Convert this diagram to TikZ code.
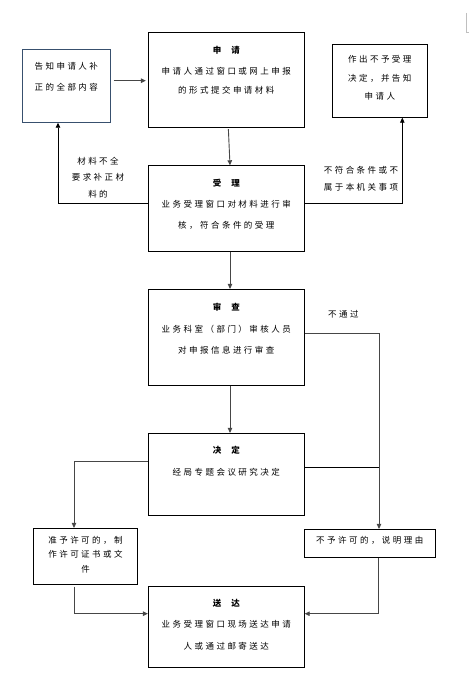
\documentclass[tikz,border=0pt]{standalone}
\usepackage{fontspec}
\setmainfont{Noto Sans CJK SC}[LetterSpace=29]
\usepackage{xcolor}
\usepackage{tikz}
\usetikzlibrary{arrows.meta, positioning, calc}
\definecolor{boxcolor}{RGB}{0,0,0}
\definecolor{notecolor}{RGB}{56,80,110}
\definecolor{flowcolor}{RGB}{70,70,70}

\begin{document}
\begin{tikzpicture}[
    x=1pt, y=-1pt,
    box/.style={draw=boxcolor, line width=0.8pt, inner sep=0pt},
    title/.style={font=\fontsize{8.5}{10}\selectfont\bfseries},
    body/.style={align=center, font=\fontsize{8.5}{19}\selectfont},
    flow/.style={draw=flowcolor, line width=0.9pt, -{Triangle[length=5pt,width=4.5pt]}},
    line/.style={draw=boxcolor, line width=0.8pt}
]
    \useasboundingbox (0,0) rectangle (470,698);
    % Boxes
    \node[box, minimum width=156pt, minimum height=95pt] (apply) at (226.3,79.8) {};
    \node[title] at (226.3,50) {申\hspace{10pt}请};
    \node[body] at (226.3,81.2) {申请人通过窗口或网上申报\\的形式提交申请材料};

    \node[box, draw=notecolor, minimum width=88pt, minimum height=73pt] (notify) at (66.3,85.8) {};
    \node[body, font=\fontsize{8.5}{21}\selectfont] at (66.3,77.2) {告知申请人补\\正的全部内容};

    \node[box, minimum width=95pt, minimum height=73pt] (reject) at (379.8,80.8) {};
    \node[body, font=\fontsize{8.5}{18.7}\selectfont] at (379.8,78) {作出不予受理\\决定，并告知\\申请人};

    \node[box, minimum width=156pt, minimum height=85.6pt] (accept) at (226.3,208.5) {};
    \node[title] at (226.3,182.7) {受\hspace{10pt}理};
    \node[body, font=\fontsize{8.5}{21.3}\selectfont] at (226.3,214.7) {业务受理窗口对材料进行审\\核，符合条件的受理};

    \node[box, minimum width=156pt, minimum height=96pt] (review) at (226.3,337.3) {};
    \node[title] at (226.3,306.7) {审\hspace{10pt}查};
    \node[body, font=\fontsize{8.5}{21}\selectfont] at (226.3,339.5) {业务科室（部门）审核人员\\对申报信息进行审查};

    \node[box, minimum width=156pt, minimum height=82pt] (decide) at (226.3,474.3) {};
    \node[title] at (226.3,450) {决\hspace{10pt}定};
    \node[body] at (226.3,472.3) {经局专题会议研究决定};

    \node[box, minimum width=104.4pt, minimum height=56pt] (permit) at (85.5,556.3) {};
    \node[body, font=\fontsize{8.5}{14.5}\selectfont] at (85.5,554.7) {准予许可的，制\\作许可证书或文\\件};

    \node[box, minimum width=131pt, minimum height=28pt] (deny) at (369.8,543.3) {};
    \node[body] at (369.8,540.7) {不予许可的，说明理由};

    \node[box, minimum width=156pt, minimum height=81pt] (deliver) at (226.3,626.8) {};
    \node[title] at (226.3,603.3) {送\hspace{10pt}达};
    \node[body, font=\fontsize{8.5}{22}\selectfont] at (226.3,635) {业务受理窗口现场送达申请\\人或通过邮寄送达};

    % Labels
    \node[body, font=\fontsize{8.5}{16.7}\selectfont] (lackmat) at (98,177.7) {材料不全\\要求补正材\\料的};
    \node[body, font=\fontsize{8.5}{16.6}\selectfont] (notours) at (361,179) {不符合条件或不\\属于本机关事项};
    \node[body] (failed) at (343.3,314.3) {不通过};

    % Bend points
    \coordinate (backleft) at (58,203);
    \coordinate (backright) at (402.3,203);
    \coordinate (nopass) at (379,333.3);
    \coordinate (join) at (379,467.3);
    \coordinate (leftbend) at (74,461.3);
    \coordinate (lowleft) at (74.3,613.7);
    \coordinate (lowright) at (378.3,613.7);

    % Connectors
    \draw[flow, shorten <=3pt, shorten >=2pt] (notify.east |- 0,80.7) -- (apply.west |- 0,80.7);
    \draw[flow, shorten <=1.5pt] ([xshift=2pt]apply.south) -- ([xshift=3.7pt]accept.north);
    \draw[line, -{Triangle[length=5pt,width=4.5pt]}] (accept.west |- backleft) -- (backleft) -- (backleft |- notify.south);
    \draw[line, -{Triangle[length=5pt,width=4.5pt]}] (accept.east |- backright) -- (backright) -- (backright |- reject.south);
    \draw[flow] ([xshift=3.7pt]accept.south) -- ([xshift=3.7pt]review.north);
    \draw[flow] ([xshift=3.7pt]review.south) -- ([xshift=3.7pt]decide.north);
    \draw[flow] (review.east |- nopass) -- (nopass) -- (nopass |- deny.north);
    \draw[line] (decide.east |- join) -- (join);
    \draw[flow] (decide.west |- leftbend) -- (leftbend) -- (leftbend |- permit.north);
    \draw[flow, shorten <=2pt] (lowleft |- permit.south) -- (lowleft) -- (deliver.west |- lowleft);
    \draw[flow] (lowright |- deny.south) -- (lowright) -- (deliver.east |- lowright);

    % Corner mark
    \draw[gray!50, line width=0.6pt] (466,13) -- (466,32) -- (469,32);
\end{tikzpicture}
\end{document}
